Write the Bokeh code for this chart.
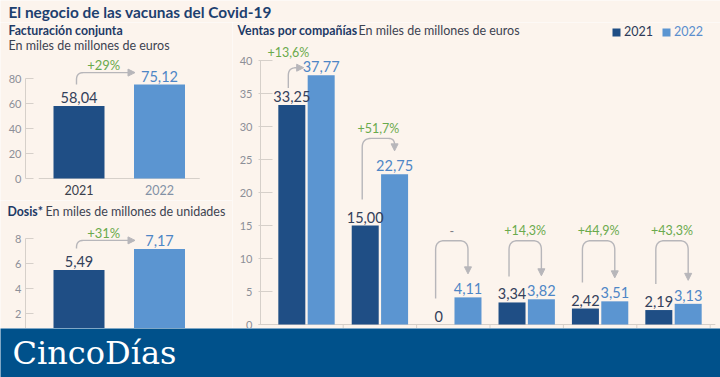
import numpy as np
from bokeh.plotting import figure
from bokeh.layouts import column, row
from bokeh.models import (Range1d, Label, FixedTicker, LinearAxis, Legend, LegendItem,
                          Arrow, NormalHead)
from bokeh.embed import file_html
from bokeh.resources import INLINE
from bokeh.core.properties import value

# ---------------- data ----------------
years = ["2021", "2022"]
facturacion = [58.04, 75.12]
facturacion_var = "+29%"
dosis = [5.49, 7.17]
dosis_var = "+31%"

companias = ["Compañía 1", "Compañía 2", "Compañía 3", "Compañía 4", "Compañía 5", "Compañía 6"]
ventas_2021 = [33.25, 15.00, 0.0, 3.34, 2.42, 2.19]
ventas_2022 = [37.77, 22.75, 4.11, 3.82, 3.51, 3.13]
ventas_var = ["+13,6%", "+51,7%", "-", "+14,3%", "+44,9%", "+43,3%"]

fact_ticks = [0, 20, 40, 60, 80]
dosis_ticks = [0, 2, 4, 6, 8]
ventas_ticks = [0, 5, 10, 15, 20, 25, 30, 35, 40]

# ---------------- style ----------------
FONT = "Lato"
BG = "#fcf4ed"
C21 = "#1f4e85"
C22 = "#5b95d1"
BANNER = "#00518b"
TITLE_C = "#1d406f"
HEAD_C = "#1e3a66"
SUB_C = "#3d4351"
TICKLAB_C = "#8c8f98"
AXIS_C = "#d6d0ca"
V21_C = "#33405a"
V22_C = "#4e86c6"
PCT_C = "#6aaa4c"
DASH_C = "#7d7f86"
ARROW_C = "#b7b6ba"
CAT_C = ["#3b404b", "#8391a5"]
LEG_C = ["#2c3a58", "#5a8ecd"]
HEAD_SIZE = "12.3px"
SUB_SIZE = "12.5px"
# level (data units) of the top of the bent arrows in the company chart
ARROW_TOP = [None, 28.2, 12.7, 12.7, 12.7, 12.7]


class Map:
    """page pixel <-> data conversion for one panel"""
    def __init__(s, x0px, ppx, y0px, ppy):
        s.x0px, s.ppx, s.y0px, s.ppy = x0px, ppx, y0px, ppy

    def X(s, px):
        return (px - s.x0px) / s.ppx

    def Y(s, py):
        return (s.y0px - py) / s.ppy

    def px(s, x):
        return s.x0px + x * s.ppx

    def py(s, y):
        return s.y0px - y * s.ppy


def fmt(v):
    return "0" if v == 0 else f"{v:.2f}".replace(".", ",")


def make_fig(w, h, m, left, top):
    p = figure(width=w, height=h,
               x_range=Range1d(m.X(left), m.X(left + w)),
               y_range=Range1d(m.Y(top + h), m.Y(top)),
               output_backend="svg", toolbar_location=None,
               x_axis_location=None, y_axis_location=None,
               min_border=0, min_border_left=0, min_border_right=0,
               min_border_top=0, min_border_bottom=0)
    p.background_fill_color = BG
    p.border_fill_color = BG
    p.outline_line_color = None
    p.grid.grid_line_color = None
    return p


def add_yaxis(p, m, axis_px, ticks, tick_in, tick_out, standoff):
    ax = LinearAxis(ticker=FixedTicker(ticks=ticks), bounds=(ticks[0], ticks[-1]),
                    fixed_location=m.X(axis_px))
    ax.major_tick_in = tick_in
    ax.major_tick_out = tick_out
    ax.minor_tick_in = 0
    ax.minor_tick_out = 0
    ax.major_label_standoff = standoff
    ax.major_label_text_font = FONT
    ax.major_label_text_font_size = "11px"
    ax.major_label_text_color = TICKLAB_C
    ax.axis_line_color = AXIS_C
    ax.major_tick_line_color = AXIS_C
    p.add_layout(ax, "left")


def label(p, m, x_px, mid_px, text, size, color, style="normal", font=FONT):
    p.add_layout(Label(x=m.X(x_px), y=m.Y(mid_px), text=text, text_font=font,
                       text_font_size=size, text_color=color, text_font_style=style,
                       text_baseline="middle", text_align="left"))


def rounded(pts, r, n=10):
    pts = [np.array(q, float) for q in pts]
    out = [pts[0]]
    for i in range(1, len(pts) - 1):
        a, b, c = pts[i - 1], pts[i], pts[i + 1]
        la, lc = np.linalg.norm(a - b), np.linalg.norm(c - b)
        rr = min(r, la, lc / 2)
        p1 = b + (a - b) / la * rr
        p2 = b + (c - b) / lc * rr
        for t in np.linspace(0, 1, n):
            out.append((1 - t) ** 2 * p1 + 2 * (1 - t) * t * b + t ** 2 * p2)
    out.append(pts[-1])
    return out


def draw_arrow(p, m, pts_px, r):
    path = rounded(pts_px, r)
    tip = np.array(pts_px[-1], float)
    prev = np.array(pts_px[-2], float)
    d = (tip - prev) / np.linalg.norm(tip - prev)
    path[-1] = tip - d * 4
    p.line([m.X(q[0]) for q in path], [m.Y(q[1]) for q in path],
           line_color=ARROW_C, line_width=1.4)
    st = tip - d * 6
    p.add_layout(Arrow(end=NormalHead(size=7, fill_color=ARROW_C, line_color=ARROW_C, line_width=1),
                       x_start=m.X(st[0]), y_start=m.Y(st[1]),
                       x_end=m.X(tip[0]), y_end=m.Y(tip[1]),
                       line_color=ARROW_C, line_alpha=0))


# ---------------- header ----------------
hm = Map(0, 1, 22, 1)
header = make_fig(720, 22, hm, 0, 0)
label(header, hm, 8, 11, "El negocio de las vacunas del Covid-19", "15.4px", TITLE_C, "bold")


# ---------------- small charts (left) ----------------
def small_chart(top, h, m, vals, ticks, var_text, level_gap, pct_mid, heads):
    p = make_fig(232, h, m, 0, top)
    add_yaxis(p, m, 25, ticks, 8, 0, 4)
    pos = np.arange(len(vals))
    bw = 51 / m.ppx
    p.segment(x0=[pos[0] - 0.5], x1=[pos[-1] + 0.5], y0=[0], y1=[0], line_color=AXIS_C, line_width=1)
    p.vbar(x=pos, top=vals, width=bw, bottom=0, fill_color=[C21, C22], line_color=None)
    p.text(x=pos, y=[v + 8 / m.ppy for v in vals], text=[fmt(v) for v in vals],
           text_font=value(FONT), text_font_size="14.5px", text_align="center",
           text_baseline="middle", text_color=[V21_C, V22_C])
    # arrow
    xl = m.px(pos[0]) - 2.5
    start = m.py(vals[0]) - 21.5
    level = m.py(vals[1]) - level_gap
    tipx = m.px(pos[1] - bw / 2) + 1
    draw_arrow(p, m, [(xl, start), (xl, level), (tipx, level)], 7)
    p.text(x=[m.X((xl + tipx) / 2 - 2)], y=[m.Y(level - pct_mid)], text=[var_text],
           text_font=value(FONT), text_font_size="13px", text_align="center",
           text_baseline="middle", text_color=PCT_C)
    for args in heads:
        label(p, m, *args)
    return p, pos


m1 = Map(78.5, 80.5, 178, 1.25)
L1, pos1 = small_chart(22, 178, m1, facturacion, fact_ticks, facturacion_var, 12, 8,
                       [(8, 30, "Facturación conjunta", HEAD_SIZE, HEAD_C, "bold"),
                        (8, 44.5, "En miles de millones de euros", SUB_SIZE, SUB_C)])
L1.text(x=pos1, y=[m1.Y(189.5)] * 2, text=years, text_font=value(FONT), text_font_size="12.5px",
        text_align="center", text_baseline="middle", text_color=CAT_C)

m2 = Map(78.5, 80.5, 338, 12.5)
L2, pos2 = small_chart(200, 128, m2, dosis, dosis_ticks, dosis_var, 8.5, 7,
                       [(7, 211, "Dosis*", HEAD_SIZE, HEAD_C, "bold"),
                        (45, 211, "En miles de millones de unidades", SUB_SIZE, SUB_C)])

# ---------------- company chart (right) ----------------
m3 = Map(306, 73.4, 324, 6.6)
R = make_fig(488, 306, m3, 232, 22)
add_yaxis(R, m3, 260, ventas_ticks, 12, 2, 6)
pos = np.arange(len(companias))
off = 0.2
bw = 27 / m3.ppx
R.segment(x0=[m3.X(258)], x1=[pos[-1] + 0.57], y0=[0], y1=[0], line_color=AXIS_C, line_width=1)
R.segment(x0=list(pos + 0.5), x1=list(pos + 0.5),
          y0=[0] * len(pos), y1=[-4 / m3.ppy] * len(pos), line_color=AXIS_C, line_width=1)
r21 = R.vbar(x=pos - off, top=ventas_2021, width=bw, bottom=0, fill_color=C21, line_color=None)
r22 = R.vbar(x=pos + off, top=ventas_2022, width=bw, bottom=0, fill_color=C22, line_color=None)
R.text(x=pos - off, y=[v + 8.5 / m3.ppy for v in ventas_2021], text=[fmt(v) for v in ventas_2021],
       text_font=value(FONT), text_font_size="14.5px", text_align="center",
       text_baseline="middle", text_color=V21_C)
R.text(x=pos + off, y=[v + 8.5 / m3.ppy for v in ventas_2022], text=[fmt(v) for v in ventas_2022],
       text_font=value(FONT), text_font_size="14.5px", text_align="center",
       text_baseline="middle", text_color=V22_C)

pct_x, pct_y, pct_c = [], [], []
for i in range(len(pos)):
    if i == 0:
        xl = m3.px(pos[i] - off) - 3.5
        start = m3.py(ventas_2021[i]) - 17
        level = m3.py(ventas_2022[i]) - 7.5
        tipx = m3.px(pos[i] + off - bw / 2) - 4
        draw_arrow(R, m3, [(xl, start), (xl, level), (tipx, level)], 8)
        pct_x.append(m3.X(xl))
        pct_y.append(m3.Y(level - 15.5))
    else:
        xl = m3.px(pos[i] - off) - 3
        xr = m3.px(pos[i] + off)
        start = m3.py(ventas_2021[i]) - 26
        topy = m3.py(ARROW_TOP[i])
        tip = m3.py(ventas_2022[i]) - 23.5
        draw_arrow(R, m3, [(xl, start), (xl, topy), (xr, topy), (xr, tip)], 9)
        pct_x.append(m3.X((xl + xr) / 2))
        pct_y.append(m3.Y(topy - 10))
    pct_c.append(DASH_C if ventas_var[i] == "-" else PCT_C)
R.text(x=pct_x, y=pct_y, text=ventas_var, text_font=value(FONT), text_font_size="12.5px",
       text_align="center", text_baseline="middle", text_color=pct_c)

label(R, m3, 237, 30, "Ventas por compañías", HEAD_SIZE, HEAD_C, "bold")
label(R, m3, 358, 30, "En miles de millones de euros", SUB_SIZE, SUB_C)

for rr, yr, c, lx in [(r21, years[0], LEG_C[0], 379), (r22, years[1], LEG_C[1], 429)]:
    leg = Legend(items=[LegendItem(label=yr, renderers=[rr])], location=(lx, 289),
                 orientation="horizontal", glyph_width=10, glyph_height=10, label_height=10,
                 label_standoff=3, padding=0, margin=0, spacing=0,
                 border_line_alpha=0, background_fill_alpha=0,
                 label_text_font=FONT, label_text_font_size="12.5px", label_text_color=c)
    R.add_layout(leg)

# ---------------- banner ----------------
bm = Map(0, 1, 49, 1)
banner = make_fig(720, 49, bm, 0, 0)
banner.background_fill_color = BANNER
banner.border_fill_color = BANNER
label(banner, bm, 12, 24.5, "CincoDías", "32px", "#ffffff", "normal", "DejaVu Serif")

layout = column(header, row(column(L1, L2, spacing=0), R, spacing=0), banner, spacing=0)
open("out.html", "w").write(file_html(layout, INLINE))
